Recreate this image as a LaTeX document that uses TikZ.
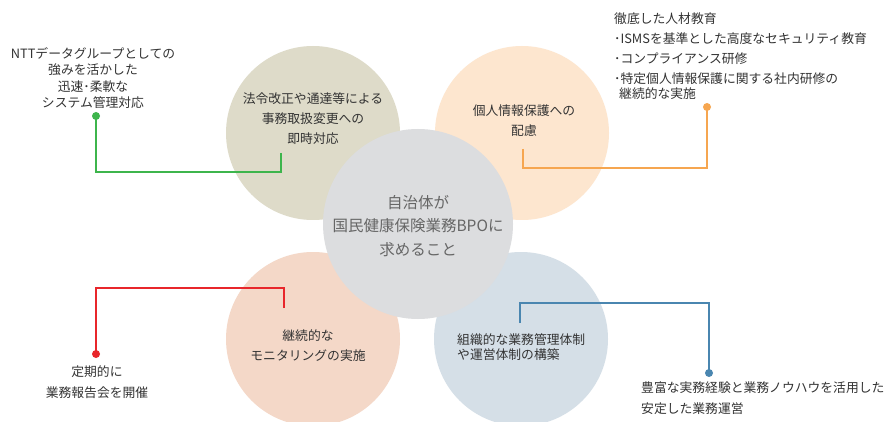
\documentclass[tikz,border=0pt]{standalone}
\usepackage{fontspec}
\setmainfont{Noto Sans CJK JP}
\definecolor{cOlive}{HTML}{DEDBC9}
\definecolor{cPeach}{HTML}{FDE6CF}
\definecolor{cGray}{HTML}{DCDDDF}
\definecolor{cSalmon}{HTML}{F4D8C8}
\definecolor{cBlue}{HTML}{D5DFE7}
\definecolor{lGreen}{HTML}{3DB54C}
\definecolor{lOrange}{HTML}{F6A650}
\definecolor{lRed}{HTML}{E8262B}
\definecolor{lBlue}{HTML}{4A86B0}
\definecolor{txt}{HTML}{333333}
\definecolor{txtc}{HTML}{666666}
\begin{document}
\begin{tikzpicture}[x=1pt,y=-1pt,
  bubble/.style={circle,inner sep=0pt,minimum size=174pt},
  conn/.style={line width=1.1pt},
  dotmark/.style={circle,inner sep=0pt,minimum size=8pt},
  lbl/.style={text=txt,inner sep=0pt,font=\fontsize{12.8}{20}\selectfont},
]
\useasboundingbox[fill=white] (0,0) rectangle (886,422);
% circles
\node[bubble,fill=cOlive] (c1) at (313,133) {};
\node[bubble,fill=cPeach] (c2) at (522,133) {};
\node[bubble,fill=cSalmon] (c3) at (313,339) {};
\node[bubble,fill=cBlue] (c4) at (521,339) {};
\node[circle,inner sep=0pt,minimum size=190pt,fill=cGray] (c0) at (418,224) {};
% connector points
\coordinate (g1) at (281,153);
\coordinate (o1) at (523,149);
\coordinate (r1) at (284,308);
\coordinate (b1) at (520,323);
\node[dotmark,fill=lGreen] (gd) at (96,116) {};
\node[dotmark,fill=lOrange] (od) at (707,107) {};
\node[dotmark,fill=lRed] (rd) at (96,354) {};
\node[dotmark,fill=lBlue] (bd) at (709,373) {};
\draw[conn,lGreen] (g1) |- (96,172) -- (gd.center);
\draw[conn,lOrange] (o1) |- (707,168) -- (od.center);
\draw[conn,lRed] (r1) |- (96,288) -- (rd.center);
\draw[conn,lBlue] (b1) |- (709,303) -- (bd.center);
% circle texts
\node[lbl,align=center] (t1) at (313,119) {法令改正や通達等による\\事務取扱変更への\\即時対応};
\node[lbl,align=center] (t2) at (524,121) {個人情報保護への\\配慮};
\node[lbl,align=center] (t3) at (308,346) {継続的な\\モニタリングの実施};
\node[lbl,align=left,font=\fontsize{12.8}{14.5}\selectfont,anchor=west] (t4) at (457,347) {組織的な業務管理体制\\や運営体制の構築};
\node[inner sep=0pt,align=center,text=txtc,font=\fontsize{15.5}{23.5}\selectfont] (t0) at (418,226) {自治体が\\国民健康保険業務BPOに\\求めること};
% outer texts
\node[lbl,align=center,font=\fontsize{12.8}{16.5}\selectfont] (n1) at (93,78) {NTTデータグループとしての\\強みを活かした\\迅速･柔軟な\\システム管理対応};
\node[lbl,align=left,anchor=north west] (n2) at (614,13) {徹底した人材教育\\･ISMSを基準とした高度なセキュリティ教育\\･コンプライアンス研修\\･特定個人情報保護に関する社内研修の\\[-5pt]\hspace{5pt}継続的な実施};
\node[lbl,align=center,font=\fontsize{12.8}{21}\selectfont] (n3) at (97,382.5) {定期的に\\業務報告会を開催};
\node[lbl,align=left,font=\fontsize{12.8}{21}\selectfont,anchor=west] (n4) at (641,398.5) {豊富な実務経験と業務ノウハウを活用した\\安定した業務運営};
\end{tikzpicture}
\end{document}
